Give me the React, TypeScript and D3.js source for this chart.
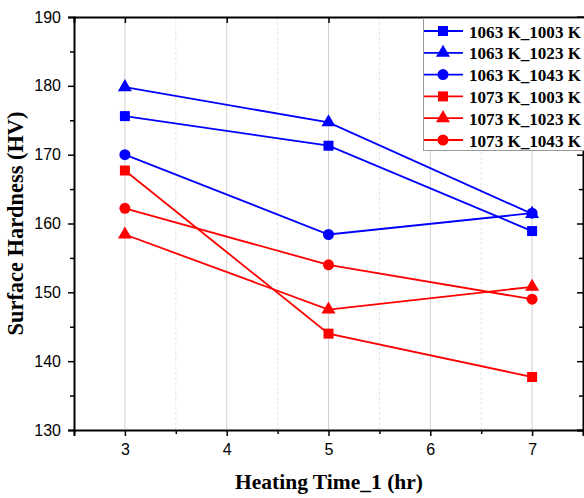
import React, {useEffect, useRef} from 'react';
import * as d3 from 'd3';

// chart data
const times = [3, 5, 7];
const seriesNames = ['1063 K_1003 K', '1063 K_1023 K', '1063 K_1043 K', '1073 K_1003 K', '1073 K_1023 K', '1073 K_1043 K'];
const seriesColors = ['#0000ff', '#0000ff', '#0000ff', '#ff0000', '#ff0000', '#ff0000'];
const seriesShapes = ['square', 'triangle', 'circle', 'square', 'triangle', 'circle'];
const s1063_1003 = [175.6, 171.3, 158.9];
const s1063_1023 = [179.8, 174.7, 161.4];
const s1063_1043 = [170.0, 158.4, 161.5];
const s1073_1003 = [167.7, 144.0, 137.7];
const s1073_1023 = [158.4, 147.5, 150.8];
const s1073_1043 = [162.2, 154.0, 149.0];
const allSeries = [s1063_1003, s1063_1023, s1063_1043, s1073_1003, s1073_1023, s1073_1043];
const yTicks = [130, 140, 150, 160, 170, 180, 190];
const yMinorTicks = [135, 145, 155, 165, 175, 185];
const xTicks = [3, 4, 5, 6, 7];
const xMinorTicks = [2.5, 3.5, 4.5, 5.5, 6.5, 7.5];

const width = 584;
const height = 498;

const App = () => {
    const svgRef = useRef(null);

    useEffect(() => {
        const svg = d3.select(svgRef.current);
        svg.selectAll('*').remove();

        const left = 74, right = 583, top = 17, bottom = 430;
        const x = d3.scaleLinear().domain([2.5, 7.5]).range([left, right]);
        const y = d3.scaleLinear().domain([130, 190]).range([bottom, top]);

        const symbolFor = (shape) => {
            if (shape === 'square') return d3.symbol().type(d3.symbolSquare).size(100);
            if (shape === 'triangle') return d3.symbol().type(d3.symbolTriangle).size(85);
            return d3.symbol().type(d3.symbolCircle).size(95);
        };

        // vertical grid lines (major solid, minor dashed)
        const g = svg.append('g');
        xTicks.forEach((t) => {
            g.append('line')
                .attr('x1', x(t)).attr('x2', x(t))
                .attr('y1', top).attr('y2', bottom)
                .attr('stroke', '#d0d0d0').attr('stroke-width', 1);
        });
        xMinorTicks.slice(1, 5).forEach((t) => {
            g.append('line')
                .attr('x1', x(t)).attr('x2', x(t))
                .attr('y1', top).attr('y2', bottom)
                .attr('stroke', '#e4e4e4').attr('stroke-width', 1)
                .attr('stroke-dasharray', '3,2');
        });

        // series lines + markers
        const line = d3.line().x((d, i) => x(times[i])).y((d) => y(d));
        allSeries.forEach((vals, si) => {
            svg.append('path')
                .datum(vals)
                .attr('d', line)
                .attr('fill', 'none')
                .attr('stroke', seriesColors[si])
                .attr('stroke-width', 1.8);
            svg.selectAll('.m' + si)
                .data(vals)
                .enter().append('path')
                .attr('d', symbolFor(seriesShapes[si]))
                .attr('transform', (d, i) => 'translate(' + x(times[i]) + ',' + y(d) + ')')
                .attr('fill', seriesColors[si]);
        });

        // axes frame
        svg.append('g')
            .attr('transform', 'translate(0,' + bottom + ')')
            .call(d3.axisBottom(x).tickValues(xTicks).tickSize(6).tickFormat(d3.format('d')))
            .call((a) => a.select('.domain').attr('stroke-width', 2))
            .call((a) => a.selectAll('.tick text').attr('font-family', 'Liberation Sans, Arial').attr('font-size', 16).attr('dy', '1.0em'));
        svg.append('g')
            .attr('transform', 'translate(0,' + bottom + ')')
            .call(d3.axisBottom(x).tickValues(xMinorTicks).tickSize(4).tickFormat(() => ''))
            .call((a) => a.select('.domain').remove());
        svg.append('g')
            .attr('transform', 'translate(' + left + ',0)')
            .call(d3.axisLeft(y).tickValues(yTicks).tickSize(6))
            .call((a) => a.select('.domain').attr('stroke-width', 2))
            .call((a) => a.selectAll('.tick text').attr('font-family', 'Liberation Sans, Arial').attr('font-size', 16).attr('x', -13));
        svg.append('g')
            .attr('transform', 'translate(' + left + ',0)')
            .call(d3.axisLeft(y).tickValues(yMinorTicks).tickSize(4).tickFormat(() => ''))
            .call((a) => a.select('.domain').remove());
        // top & right
        svg.append('g')
            .attr('transform', 'translate(0,' + top + ')')
            .call(d3.axisTop(x).tickValues(xTicks).tickSize(-6).tickFormat(() => ''))
            .call((a) => a.select('.domain').attr('stroke-width', 2));
        svg.append('g')
            .attr('transform', 'translate(' + right + ',0)')
            .call(d3.axisRight(y).tickValues(yTicks).tickSize(-6).tickFormat(() => ''))
            .call((a) => a.select('.domain').attr('stroke-width', 2));
        svg.append('g')
            .attr('transform', 'translate(' + right + ',0)')
            .call(d3.axisRight(y).tickValues(yMinorTicks).tickSize(-4).tickFormat(() => ''))
            .call((a) => a.select('.domain').remove());
        svg.selectAll('.tick line').attr('stroke', '#000').attr('stroke-width', 1.5);

        // axis titles
        svg.append('text')
            .attr('x', (left + 584) / 2)
            .attr('y', 489)
            .attr('text-anchor', 'middle')
            .attr('font-family', 'Liberation Serif, Times New Roman')
            .attr('font-weight', 'bold')
            .attr('font-size', 21.5)
            .text('Heating Time_1 (hr)');
        svg.append('text')
            .attr('transform', 'translate(23,' + (top + bottom) / 2 + ') rotate(-90)')
            .attr('text-anchor', 'middle')
            .attr('font-family', 'Liberation Serif, Times New Roman')
            .attr('font-weight', 'bold')
            .attr('font-size', 22.4)
            .text('Surface Hardness (HV)');

        // legend
        const lg = svg.append('g');
        lg.append('rect')
            .attr('x', 423.5).attr('y', 18.5)
            .attr('width', 170).attr('height', 132)
            .attr('fill', 'white')
            .attr('stroke', '#999').attr('stroke-width', 1);
        seriesNames.forEach((name, i) => {
            const ly = 31 + i * 21.8;
            lg.append('line')
                .attr('x1', 424).attr('x2', 463)
                .attr('y1', ly).attr('y2', ly)
                .attr('stroke', seriesColors[i]).attr('stroke-width', 1.8);
            lg.append('path')
                .attr('d', symbolFor(seriesShapes[i]))
                .attr('transform', 'translate(443,' + ly + ')')
                .attr('fill', seriesColors[i]);
            lg.append('text')
                .attr('x', 469).attr('y', ly + 6.5)
                .attr('font-family', 'Liberation Serif, Times New Roman')
                .attr('font-weight', 'bold')
                .attr('font-size', 17.3)
                .attr('textLength', 112)
                .attr('lengthAdjust', 'spacingAndGlyphs')
                .text(name);
        });
    }, []);

    return <svg ref={svgRef} width={width} height={height} style={{position: 'absolute', left: 0, top: 0, background: 'white'}}/>;
};

export default App;
